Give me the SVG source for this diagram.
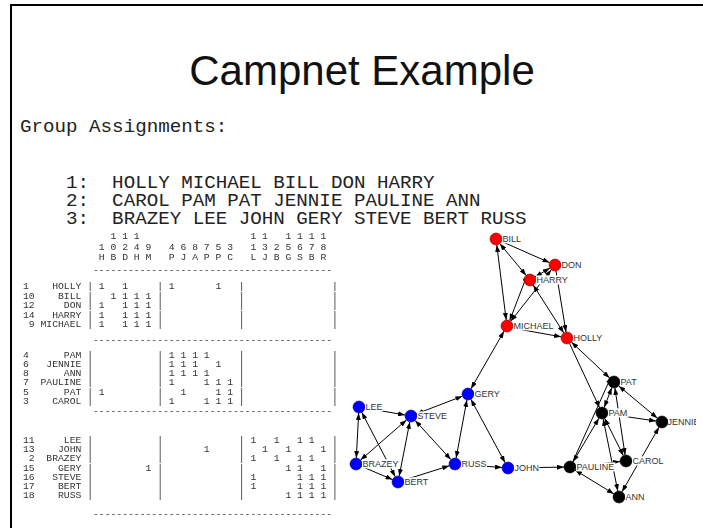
<svg xmlns="http://www.w3.org/2000/svg" width="703" height="528" viewBox="0 0 703 528">
  <style>
    .title { font-family: "Liberation Sans", Arial, sans-serif; font-size: 42px; fill: #111; }
    .grp { font-family: "Liberation Mono", "Courier New", monospace; font-size: 19.2px; fill: #222; white-space: pre; }
    .mx { font-family: "Liberation Mono", "Courier New", monospace; font-size: 9.72px; fill: #333; white-space: pre; }
    .edge { stroke: #000; stroke-width: 1; fill: none; }
    .e1 { marker-end: url(#ah); }
    .e2 { marker-start: url(#ah); marker-end: url(#ah); }
    .red { fill: #ff0000; stroke: #7a0000; stroke-width: 0.6; }
    .blue { fill: #0000ff; stroke: #00007a; stroke-width: 0.6; }
    .black { fill: #000; stroke: #000; stroke-width: 0.6; }
    .lbg { fill: #fff; }
    .lbl { font-family: "Liberation Sans", Arial, sans-serif; font-size: 9px; fill: #333; }
  </style>
  <defs>
    <marker id="ah" viewBox="0 0 7 5" refX="7" refY="2.5" markerWidth="7" markerHeight="5" markerUnits="userSpaceOnUse" orient="auto-start-reverse">
      <path d="M0,0 L7,2.5 L0,5 z" fill="#000"/>
    </marker>
    <clipPath id="graph-area">
      <rect x="340" y="225" width="356" height="290"/>
    </clipPath>
    <!-- pass-through filter: renders the matrix into its own buffer -->
    <filter id="flat" x="0" y="0" width="1" height="1">
      <feOffset dx="0" dy="0"/>
    </filter>
  </defs>

  <rect width="703" height="528" fill="#fff"/>

  <!-- slide frame -->
  <path d="M11,528 V5 H703" fill="none" stroke="#000" stroke-width="2"/>

  <text class="title" x="362" y="85" text-anchor="middle">Campnet Example</text>

  <!-- group listing -->
  <g id="group-list">
    <text class="grp" x="20" y="132" xml:space="preserve">Group Assignments:</text>
    <text class="grp" x="20" y="188" xml:space="preserve">    1:  HOLLY MICHAEL BILL DON HARRY</text>
    <text class="grp" x="20" y="206" xml:space="preserve">    2:  CAROL PAM PAT JENNIE PAULINE ANN</text>
    <text class="grp" x="20" y="224" xml:space="preserve">    3:  BRAZEY LEE JOHN GERY STEVE BERT RUSS</text>
  </g>

  <!-- blocked adjacency matrix -->
  <g id="matrix" class="mx" filter="url(#flat)">
    <text class="mx" x="23" y="239" xml:space="preserve">               1 1 1                   1 1   1 1 1 1</text>
    <text class="mx" x="23" y="250" xml:space="preserve">             1 0 2 4 9   4 6 8 7 5 3   1 3 2 5 6 7 8</text>
    <text class="mx" x="23" y="260" xml:space="preserve">             H B D H M   P J A P P C   L J B G S B R</text>
    <text class="mx" x="23" y="273" xml:space="preserve">            -----------------------------------------</text>
    <text class="mx" x="23" y="289" xml:space="preserve">1    HOLLY | 1   1     | 1       1   |               |</text>
    <text class="mx" x="23" y="298.5" xml:space="preserve">10    BILL |   1 1 1 1 |             |               |</text>
    <text class="mx" x="23" y="308" xml:space="preserve">12     DON | 1   1 1 1 |             |               |</text>
    <text class="mx" x="23" y="317.5" xml:space="preserve">14   HARRY | 1   1 1 1 |             |               |</text>
    <text class="mx" x="23" y="327" xml:space="preserve"> 9 MICHAEL | 1   1 1 1 |             |               |</text>
    <text class="mx" x="23" y="343" xml:space="preserve">            -----------------------------------------</text>
    <text class="mx" x="23" y="358" xml:space="preserve">4      PAM |           | 1 1 1 1     |               |</text>
    <text class="mx" x="23" y="367" xml:space="preserve">6   JENNIE |           | 1 1 1   1   |               |</text>
    <text class="mx" x="23" y="376" xml:space="preserve">8      ANN |           | 1 1 1 1     |               |</text>
    <text class="mx" x="23" y="385.3" xml:space="preserve">7  PAULINE |           | 1     1 1 1 |               |</text>
    <text class="mx" x="23" y="394.5" xml:space="preserve">5      PAT | 1         |   1     1 1 |               |</text>
    <text class="mx" x="23" y="404" xml:space="preserve">3    CAROL |           | 1     1 1 1 |               |</text>
    <text class="mx" x="23" y="414" xml:space="preserve">            -----------------------------------------</text>
    <text class="mx" x="23" y="443" xml:space="preserve">11     LEE |           |             | 1   1   1 1   |</text>
    <text class="mx" x="23" y="452" xml:space="preserve">13    JOHN |           |       1     |   1   1     1 |</text>
    <text class="mx" x="23" y="461" xml:space="preserve"> 2  BRAZEY |           |             | 1   1   1 1   |</text>
    <text class="mx" x="23" y="470.5" xml:space="preserve">15    GERY |         1 |             |       1 1   1 |</text>
    <text class="mx" x="23" y="479.5" xml:space="preserve">16   STEVE |           |             | 1       1 1 1 |</text>
    <text class="mx" x="23" y="488.5" xml:space="preserve">17    BERT |           |             | 1       1 1 1 |</text>
    <text class="mx" x="23" y="497.5" xml:space="preserve">18    RUSS |           |             |       1 1 1 1 |</text>
    <text class="mx" x="23" y="517" xml:space="preserve">            -----------------------------------------</text>
  </g>

  <g id="network" clip-path="url(#graph-area)">
    <!-- ties between actors -->
    <g id="edges" class="edge">
      <line class="edge e1" x1="501.5" y1="241.4" x2="549.5" y2="262.6"/>
      <line class="edge e2" x1="499.8" y1="243.6" x2="526.2" y2="275.4"/>
      <line class="edge e2" x1="496.8" y1="245.0" x2="506.2" y2="320.0"/>
      <line class="edge e2" x1="535.1" y1="276.9" x2="549.9" y2="268.1"/>
      <line class="edge e2" x1="510.7" y1="321.3" x2="551.3" y2="269.7"/>
      <line class="edge e2" x1="509.7" y1="320.6" x2="527.3" y2="274.6"/>
      <line class="edge e2" x1="533.2" y1="285.1" x2="563.8" y2="332.9"/>
      <line class="edge e1" x1="556.0" y1="270.9" x2="566.0" y2="332.1"/>
      <line class="edge e1" x1="512.9" y1="328.2" x2="561.1" y2="336.8"/>
      <line class="edge e2" x1="471.0" y1="388.8" x2="504.0" y2="331.2"/>
      <line class="edge e2" x1="571.4" y1="342.1" x2="609.6" y2="377.9"/>
      <line class="edge e1" x1="569.5" y1="343.4" x2="599.5" y2="407.6"/>
      <line class="edge e2" x1="604.2" y1="407.4" x2="611.8" y2="387.6"/>
      <line class="edge e2" x1="618.6" y1="385.8" x2="657.4" y2="418.2"/>
      <line class="edge e2" x1="607.9" y1="413.9" x2="656.1" y2="421.1"/>
      <line class="edge e2" x1="659.0" y1="427.2" x2="622.0" y2="491.8"/>
      <line class="edge e2" x1="614.9" y1="387.9" x2="625.1" y2="455.1"/>
      <line class="edge e2" x1="604.7" y1="418.4" x2="623.3" y2="455.6"/>
      <line class="edge e2" x1="603.2" y1="418.9" x2="617.8" y2="491.1"/>
      <line class="edge e2" x1="573.1" y1="461.8" x2="598.9" y2="418.2"/>
      <line class="edge e1" x1="572.8" y1="461.7" x2="611.2" y2="376.7"/>
      <line class="edge e2" x1="576.0" y1="466.4" x2="620.0" y2="461.6"/>
      <line class="edge e2" x1="575.1" y1="470.1" x2="613.9" y2="493.9"/>
      <line class="edge e1" x1="514.0" y1="467.9" x2="564.0" y2="467.1"/>
      <line class="edge e2" x1="358.7" y1="413.0" x2="356.3" y2="458.0"/>
      <line class="edge e2" x1="364.9" y1="408.0" x2="405.1" y2="415.0"/>
      <line class="edge e2" x1="361.8" y1="412.3" x2="395.2" y2="476.7"/>
      <line class="edge e2" x1="360.5" y1="460.1" x2="406.5" y2="419.9"/>
      <line class="edge e1" x1="361.5" y1="466.4" x2="392.5" y2="479.6"/>
      <line class="edge e2" x1="409.8" y1="421.9" x2="399.2" y2="476.1"/>
      <line class="edge e2" x1="415.1" y1="420.4" x2="450.9" y2="459.6"/>
      <line class="edge e2" x1="416.6" y1="413.8" x2="462.4" y2="396.2"/>
      <line class="edge e2" x1="466.9" y1="399.9" x2="456.1" y2="458.1"/>
      <line class="edge e2" x1="470.9" y1="399.3" x2="505.1" y2="462.7"/>
      <line class="edge e1" x1="461.0" y1="464.5" x2="502.0" y2="467.5"/>
      <line class="edge e1" x1="403.7" y1="480.2" x2="449.3" y2="465.8"/>
    </g>

    <!-- actors -->
    <g id="n-bill"><circle class="red" cx="496" cy="239" r="6"/><rect class="lbg" x="502" y="234.4" width="19.5" height="9"/><text class="lbl" x="502.5" y="242.3">BILL</text></g>
    <g id="n-don"><circle class="red" cx="555" cy="265" r="6"/><rect class="lbg" x="561" y="260.4" width="21" height="9"/><text class="lbl" x="561.5" y="268.3">DON</text></g>
    <g id="n-harry"><circle class="red" cx="530" cy="280" r="6"/><rect class="lbg" x="536" y="275.4" width="32.5" height="9"/><text class="lbl" x="536.5" y="283.3">HARRY</text></g>
    <g id="n-michael"><circle class="red" cx="507" cy="326" r="6"/><rect class="lbg" x="513" y="321.4" width="41" height="9"/><text class="lbl" x="513.5" y="329.3">MICHAEL</text></g>
    <g id="n-holly"><circle class="red" cx="567" cy="338" r="6"/><rect class="lbg" x="573" y="333.4" width="30.5" height="9"/><text class="lbl" x="573.5" y="341.3">HOLLY</text></g>

    <g id="n-gery"><circle class="blue" cx="468" cy="394" r="6"/><rect class="lbg" x="474" y="389.4" width="26.5" height="9"/><text class="lbl" x="474.5" y="397.3">GERY</text></g>
    <g id="n-lee"><circle class="blue" cx="359" cy="407" r="6"/><rect class="lbg" x="365" y="402.4" width="18" height="9"/><text class="lbl" x="365.5" y="410.3">LEE</text></g>
    <g id="n-steve"><circle class="blue" cx="411" cy="416" r="6"/><rect class="lbg" x="417" y="411.4" width="30.5" height="9"/><text class="lbl" x="417.5" y="419.3">STEVE</text></g>
    <g id="n-brazey"><circle class="blue" cx="356" cy="464" r="6"/><rect class="lbg" x="362" y="459.4" width="37" height="9"/><text class="lbl" x="362.5" y="467.3">BRAZEY</text></g>
    <g id="n-russ"><circle class="blue" cx="455" cy="464" r="6"/><rect class="lbg" x="461" y="459.4" width="26" height="9"/><text class="lbl" x="461.5" y="467.3">RUSS</text></g>
    <g id="n-john"><circle class="blue" cx="508" cy="468" r="6"/><rect class="lbg" x="514" y="463.4" width="25.5" height="9"/><text class="lbl" x="514.5" y="471.3">JOHN</text></g>
    <g id="n-bert"><circle class="blue" cx="398" cy="482" r="6"/><rect class="lbg" x="404" y="477.4" width="25" height="9"/><text class="lbl" x="404.5" y="485.3">BERT</text></g>

    <g id="n-pat"><circle class="black" cx="614" cy="382" r="6"/><rect class="lbg" x="620" y="377.4" width="18.5" height="9"/><text class="lbl" x="620.5" y="385.3">PAT</text></g>
    <g id="n-pam"><circle class="black" cx="602" cy="413" r="6"/><rect class="lbg" x="608" y="408.4" width="20.5" height="9"/><text class="lbl" x="608.5" y="416.3">PAM</text></g>
    <g id="n-jennie"><circle class="black" cx="662" cy="422" r="6"/><rect class="lbg" x="668" y="417.4" width="33" height="9"/><text class="lbl" x="667.5" y="425.3">JENNIE</text></g>
    <g id="n-carol"><circle class="black" cx="626" cy="461" r="6"/><rect class="lbg" x="632" y="456.4" width="32" height="9"/><text class="lbl" x="632.5" y="464.3">CAROL</text></g>
    <g id="n-pauline"><circle class="black" cx="570" cy="467" r="6"/><rect class="lbg" x="576" y="462.4" width="39.5" height="9"/><text class="lbl" x="576.5" y="470.3">PAULINE</text></g>
    <g id="n-ann"><circle class="black" cx="619" cy="497" r="6"/><rect class="lbg" x="625" y="492.4" width="20" height="9"/><text class="lbl" x="625.5" y="500.3">ANN</text></g>
  </g>
</svg>
